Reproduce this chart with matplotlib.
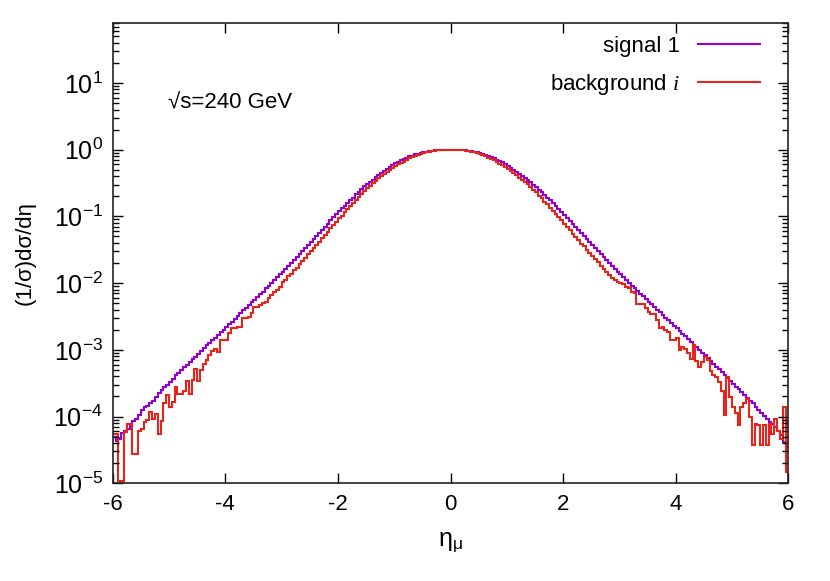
import numpy as np
import matplotlib
matplotlib.use("Agg")
import matplotlib.pyplot as plt
from matplotlib.ticker import MultipleLocator, LogLocator, NullFormatter

plt.rcParams['font.family'] = ['Liberation Sans', 'DejaVu Sans']
plt.rcParams['mathtext.fontset'] = 'custom'
plt.rcParams['mathtext.rm'] = 'Liberation Sans'
plt.rcParams['mathtext.it'] = 'Liberation Serif:italic'
plt.rcParams['axes.unicode_minus'] = False

# bin edges of eta (0.05 wide, -6 .. 6)
eta_edges = np.linspace(-6, 6, 241)

# log10 of (1/sigma) dsigma/deta, bin by bin
signal_log = [
    # -6 .. -3
    -4.30, -4.36, -4.33, -4.25, -4.22, -4.18, -4.12, -4.07, -4.03, -3.97,
    -3.90, -3.86, -3.84, -3.80, -3.77, -3.70, -3.65, -3.60, -3.56, -3.52,
    -3.48, -3.43, -3.38, -3.35, -3.30, -3.26, -3.22, -3.18, -3.14, -3.10,
    -3.06, -3.01, -2.97, -2.93, -2.90, -2.86, -2.82, -2.78, -2.74, -2.70,
    -2.66, -2.62, -2.58, -2.54, -2.49, -2.45, -2.41, -2.37, -2.33, -2.29,
    -2.25, -2.21, -2.17, -2.13, -2.08, -2.04, -2.00, -1.96, -1.91, -1.87,
    # -3 .. 0
    -1.83, -1.79, -1.74, -1.70, -1.65, -1.61, -1.56, -1.52, -1.47, -1.43,
    -1.38, -1.34, -1.29, -1.25, -1.20, -1.16, -1.11, -1.06, -1.01, -0.97,
    -0.92, -0.88, -0.84, -0.80, -0.76, -0.72, -0.67, -0.63, -0.59, -0.55,
    -0.52, -0.48, -0.45, -0.41, -0.38, -0.35, -0.32, -0.29, -0.26, -0.23,
    -0.20, -0.18, -0.16, -0.14, -0.12, -0.10, -0.09, -0.07, -0.06, -0.05,
    -0.04, -0.03, -0.02, -0.02, -0.01, -0.01, 0.00, 0.00, 0.00, 0.00,
    # 0 .. 3
    0.00, 0.00, 0.00, 0.00, -0.01, -0.01, -0.02, -0.02, -0.03, -0.04,
    -0.05, -0.06, -0.08, -0.09, -0.11, -0.13, -0.15, -0.17, -0.19, -0.22,
    -0.24, -0.27, -0.30, -0.33, -0.36, -0.39, -0.42, -0.46, -0.49, -0.53,
    -0.56, -0.60, -0.64, -0.68, -0.72, -0.76, -0.80, -0.85, -0.89, -0.93,
    -0.98, -1.02, -1.07, -1.11, -1.16, -1.20, -1.25, -1.29, -1.34, -1.38,
    -1.43, -1.47, -1.52, -1.56, -1.61, -1.65, -1.70, -1.74, -1.79, -1.83,
    # 3 .. 6
    -1.87, -1.91, -1.96, -2.00, -2.04, -2.08, -2.12, -2.16, -2.20, -2.24,
    -2.28, -2.32, -2.36, -2.40, -2.44, -2.48, -2.52, -2.56, -2.60, -2.64,
    -2.68, -2.72, -2.76, -2.80, -2.84, -2.88, -2.92, -2.96, -3.00, -3.04,
    -3.08, -3.12, -3.17, -3.21, -3.25, -3.29, -3.33, -3.37, -3.42, -3.46,
    -3.51, -3.55, -3.59, -3.63, -3.68, -3.72, -3.76, -3.80, -3.85, -3.90,
    -3.95, -3.99, -4.04, -4.08, -4.11, -4.15, -4.22, -4.28, -4.38, -4.46,
]

background_log = [
    # -6 .. -3
    -4.26, -4.26, -4.96, -4.96, -4.23, -4.11, -4.11, -4.56, -4.56, -4.21,
    -4.18, -4.08, -4.05, -3.93, -4.03, -3.96, -4.26, -4.06, -3.80, -3.68,
    -3.86, -3.78, -3.56, -3.66, -3.66, -3.61, -3.46, -3.66, -3.45, -3.28,
    -3.46, -3.30, -3.21, -3.15, -3.08, -3.02, -2.98, -3.03, -2.86, -2.86,
    -2.86, -2.75, -2.68, -2.68, -2.66, -2.66, -2.53, -2.53, -2.51, -2.45,
    -2.36, -2.36, -2.33, -2.30, -2.28, -2.22, -2.18, -2.13, -2.10, -2.06,
    # -3 .. 0
    -1.99, -1.95, -1.90, -1.86, -1.81, -1.77, -1.72, -1.67, -1.62, -1.57,
    -1.52, -1.48, -1.43, -1.38, -1.33, -1.28, -1.23, -1.18, -1.13, -1.08,
    -1.03, -0.99, -0.94, -0.89, -0.84, -0.80, -0.75, -0.71, -0.67, -0.62,
    -0.58, -0.54, -0.50, -0.47, -0.43, -0.40, -0.37, -0.33, -0.30, -0.28,
    -0.25, -0.22, -0.20, -0.18, -0.15, -0.13, -0.11, -0.10, -0.08, -0.07,
    -0.05, -0.04, -0.03, -0.02, -0.02, -0.01, -0.01, 0.00, 0.00, 0.00,
    # 0 .. 3
    0.00, 0.00, 0.00, -0.01, -0.01, -0.02, -0.02, -0.03, -0.04, -0.05,
    -0.07, -0.08, -0.10, -0.12, -0.14, -0.16, -0.18, -0.21, -0.23, -0.26,
    -0.29, -0.32, -0.35, -0.38, -0.42, -0.45, -0.49, -0.52, -0.56, -0.60,
    -0.64, -0.69, -0.73, -0.78, -0.82, -0.87, -0.92, -0.97, -1.01, -1.06,
    -1.11, -1.16, -1.21, -1.26, -1.31, -1.36, -1.41, -1.45, -1.50, -1.55,
    -1.60, -1.64, -1.69, -1.74, -1.79, -1.83, -1.88, -1.92, -1.96, -1.98,
    # 3 .. 6
    -2.00, -2.02, -2.06, -2.08, -2.13, -2.15, -2.31, -2.31, -2.31, -2.38,
    -2.43, -2.46, -2.46, -2.56, -2.68, -2.66, -2.70, -2.73, -2.86, -2.86,
    -2.83, -3.00, -2.96, -2.98, -3.05, -3.13, -2.93, -3.16, -3.26, -3.18,
    -3.11, -3.15, -3.31, -3.38, -3.41, -3.48, -3.61, -3.98, -3.41, -3.71,
    -3.86, -3.95, -4.13, -3.86, -3.80, -3.73, -4.01, -4.43, -4.11, -4.13,
    -4.43, -4.13, -4.43, -4.11, -4.26, -4.03, -4.21, -4.33, -3.86, -4.83,
]

signal = 10 ** np.array(signal_log)
background = 10 ** np.array(background_log)

fig = plt.figure(figsize=(8.3, 5.81), dpi=100)
ax = fig.add_axes([0.1358, 0.1682, 0.814, 0.7927])

ax.stairs(signal, eta_edges, baseline=None, color='#9400d3', lw=1.5, label='signal 1')
ax.stairs(background, eta_edges, baseline=None, color='#e8231a', lw=1.5,
          label=r'background $i$')

ax.set_yscale('log')
ax.set_xlim(-6, 6)
ax.set_ylim(1e-5, 80)
ax.xaxis.set_major_locator(MultipleLocator(2))
ax.yaxis.set_major_locator(LogLocator(base=10, numticks=20))
ax.yaxis.set_minor_locator(LogLocator(base=10, subs=np.arange(2, 10), numticks=20))
ax.yaxis.set_minor_formatter(NullFormatter())

ax.tick_params(which='both', direction='in', top=True, right=True, width=1)
ax.tick_params(which='major', length=7)
ax.tick_params(which='minor', length=4)
ax.tick_params(axis='x', pad=8, labelsize=16)
ax.tick_params(axis='y', pad=7, labelsize=18)
for s in ax.spines.values():
    s.set_linewidth(1.2)
    s.set_color('#222222')

ax.set_xlabel('η$_\\mathregular{μ}$', fontsize=18, labelpad=11)
ax.set_ylabel('(1/σ)dσ/dη', fontsize=16, labelpad=13)

ax.text(0.082, 0.826, '√s=240 GeV', transform=ax.transAxes, fontsize=16, va='center')

ax.legend(loc='upper right', bbox_to_anchor=(0.958, 0.972), frameon=False,
          markerfirst=False, fontsize=16, handlelength=2.8, handletextpad=0.8,
          labelspacing=0.7, borderaxespad=0, borderpad=0)

fig.savefig('out.png', dpi=100)
